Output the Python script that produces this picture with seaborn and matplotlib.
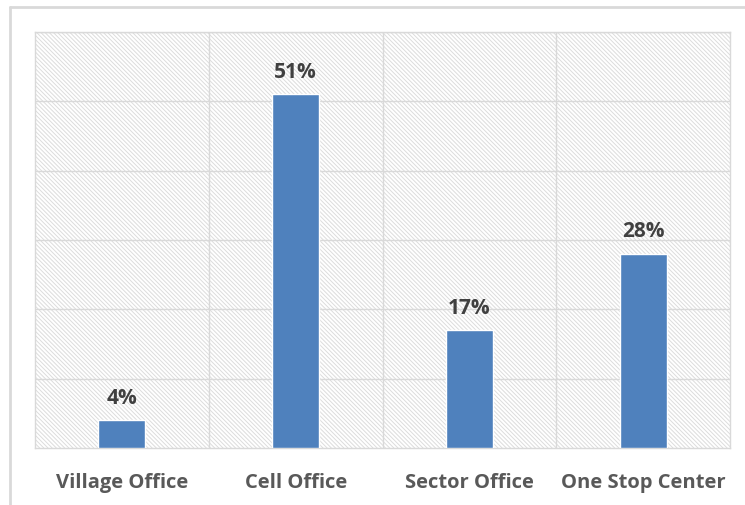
import matplotlib
matplotlib.use("Agg")
import matplotlib.pyplot as plt
import seaborn as sns
import pandas as pd
from matplotlib.patches import Rectangle
from matplotlib.lines import Line2D

# data
offices = ["Village Office", "Cell Office", "Sector Office", "One Stop Center"]
shares = [4, 51, 17, 28]

df = pd.DataFrame({"office": offices, "share": shares})

sns.set_style("white")
plt.rcParams["font.family"] = ["Open Sans", "DejaVu Sans"]
plt.rcParams["hatch.linewidth"] = 0.7
plt.rcParams["hatch.color"] = "#dcdcdc"

fig = plt.figure(figsize=(7.45, 5.06), dpi=100)
ax = fig.add_axes([0.047, 0.1126, 0.933, 0.8222])

# hatched plot-area background
bg = Rectangle((0, 0), 1, 1, transform=ax.transAxes, facecolor="white",
               edgecolor="#dcdcdc", hatch="\\" * 8, linewidth=0, zorder=0)
ax.add_patch(bg)

sns.barplot(data=df, x="office", y="share", color="#4F81BD", saturation=1,
            width=0.27, ax=ax, zorder=3)

ax.set_ylim(0, 60)
ax.set_xlim(-0.5, len(offices) - 0.5)

# grid lines
for y in range(10, 61, 10):
    ax.axhline(y, color="#d9d9d9", linewidth=1, zorder=1)
for x in [0.5, 1.5, 2.5]:
    ax.axvline(x, color="#d9d9d9", linewidth=1, zorder=1)

for s in ax.spines.values():
    s.set_color("#d9d9d9")
    s.set_linewidth(1)

ax.set_yticks([])
ax.set_xlabel("")
ax.set_ylabel("")
ax.tick_params(axis="x", length=0, pad=17)
for lbl in ax.get_xticklabels():
    lbl.set_fontsize(14.5)
    lbl.set_fontweight("bold")
    lbl.set_color("#595959")

for i, v in enumerate(shares):
    ax.text(i, v + 1.8, f"{v}%", ha="center", va="bottom", fontsize=15,
            fontweight="bold", color="#404040", zorder=4)

# outer chart border (top and left visible)
fig.add_artist(Line2D([10 / 745, 1], [1 - 8 / 506, 1 - 8 / 506],
                      color="#d9d9d9", linewidth=2))
fig.add_artist(Line2D([10 / 745, 10 / 745], [0, 1 - 8 / 506],
                      color="#d9d9d9", linewidth=2))

fig.savefig("out.png", dpi=100)
